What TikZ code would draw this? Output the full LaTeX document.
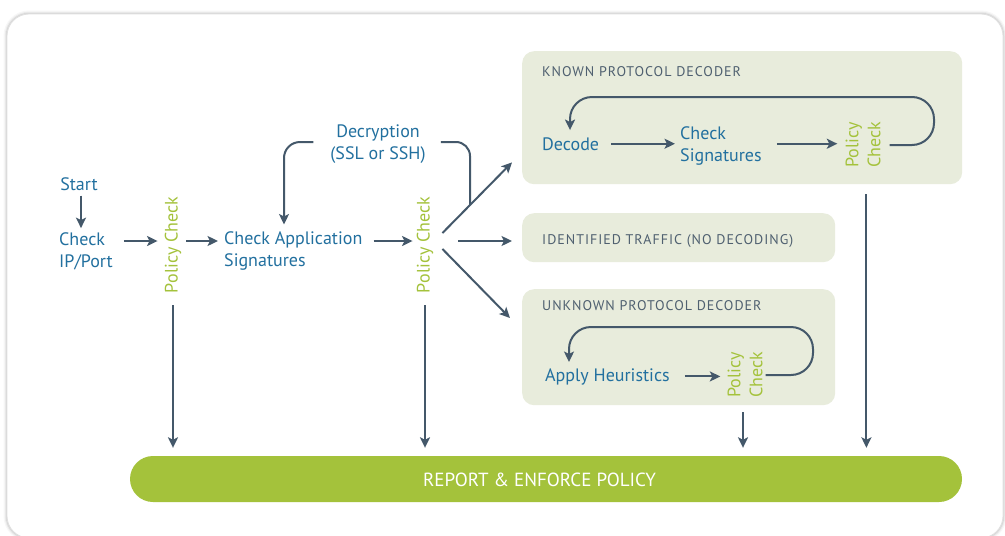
\documentclass[tikz,border=0pt]{standalone}
\usepackage{fontspec}
\setmainfont{PT Sans}
\newfontfamily\capsfont[LetterSpace=7]{PT Sans}
\usetikzlibrary{arrows.meta,calc}
\definecolor{ink}{HTML}{44586A}
\definecolor{txtblue}{HTML}{22709F}
\definecolor{lime}{HTML}{A4C23B}
\definecolor{boxfill}{HTML}{E8ECDC}
\definecolor{capink}{HTML}{4F6070}
\begin{document}
\begin{tikzpicture}[x=1pt,y=-1pt,
  link/.style={draw=ink, line width=2pt},
  arr/.style={link, -{Stealth[length=10.5pt,width=10pt,inset=2.5pt]}},
  lbl/.style={text=txtblue, font=\fontsize{18}{22}\selectfont, inner sep=2pt},
  pol/.style={text=lime, font=\fontsize{18}{22}\selectfont, rotate=90, inner sep=2pt},
  zone/.style={fill=boxfill, rounded corners=12pt, anchor=north west, inner sep=0pt},
  zonetitle/.style={text=capink, font=\capsfont\fontsize{14}{16}\selectfont, anchor=base west, inner sep=0pt}
]
\useasboundingbox (0,0) rectangle (1005,536);

% white panel with a soft edge
\foreach \w/\o in {7/0.03,4.5/0.05,2.5/0.07}
  \draw[black, opacity=\o, line width=\w pt, rounded corners=22pt] (7,14) rectangle (1003,538);
\draw[black!12, fill=white, line width=0.8pt, rounded corners=22pt] (7,14) rectangle (1003,538);

% decoder zones
\node[zone, minimum width=440, minimum height=133] (known) at (522,51) {};
\node[zone, minimum width=313, minimum height=49] (ident) at (522,213) {};
\node[zone, minimum width=313, minimum height=116] (unknown) at (522,289) {};
\node[zonetitle] (knownlbl) at (542,76) {KNOWN PROTOCOL DECODER};
\node[zonetitle] (identlbl) at (542,244) {IDENTIFIED TRAFFIC (NO DECODING)};
\node[zonetitle] (unknownlbl) at (542,310) {UNKNOWN PROTOCOL DECODER};

% report bar
\node[fill=lime, rounded corners=23pt, minimum width=832, minimum height=46, inner sep=0pt] (report) at (546,479) {};
\node[text=white, font=\fontsize{19}{21}\selectfont, inner sep=0pt] (reporttxt) at (539.5,479.5) {REPORT \& ENFORCE POLICY};

% main flow
\coordinate (row) at (0,241);
\node[lbl] (start) at (79,184) {Start};
\node[lbl, anchor=west, align=left] (ipport) at (57,251) {Check\\IP/Port};
\node[pol] (pc1) at (173,245) {Policy Check};
\node[lbl, anchor=west, align=left] (appsig) at (222,251) {Check Application\\Signatures};
\node[pol] (pc2) at (425,245) {Policy Check};
\node[lbl, align=center] (decr) at (378,144) {Decryption\\(SSL or SSH)};

% known protocol decoder
\node[lbl, anchor=base west] (decode) at (540,150) {Decode};
\node[lbl, anchor=west, align=left] (chksig) at (678,146) {Check\\Signatures};
\node[pol, align=left] (pc3) at (863,145) {Policy\\Check};

% unknown protocol decoder
\node[lbl, anchor=base west] (heur) at (543,381) {Apply Heuristics};
\node[pol, align=left] (pc4) at (745,375) {Policy\\Check};

% connectors of the main flow
\draw[arr, shorten <=3pt, shorten >=2pt] ($(start.south)+(2,0)$) -- ($(start.south |- ipport.north)+(2,0)$);
\draw[arr] ($(ipport.east |- row)+(9,0)$) -- ($(pc1.north |- row)+(-5,0)$);
\draw[arr] ($(pc1.south |- row)+(3,0)$) -- ($(appsig.west |- row)+(-4,0)$);
\draw[arr] ($(appsig.east |- row)+(9,0)$) -- ($(pc2.north |- row)+(-2,0)$);

% decryption branch
\coordinate (dl) at (284,142);
\coordinate (dr) at (470,142);
\coordinate (merge) at (470,205);
\draw[arr, rounded corners=16pt, shorten >=5pt] ($(decr.west)+(-15,-2)$) -- (dl) -- (dl |- appsig.north);
\draw[link, rounded corners=14pt] ($(decr.east)+(13,-2)$) -- (dr) -- (merge);

% fan-out to the decoders
\draw[arr] ($(pc2.south)+(7,-12)$) -- ($(known.south west)+(-10,-22)$);
\draw[arr] ($(pc2.south |- row)+(23,0)$) -- ($(ident.west |- row)+(-10,0)$);
\draw[arr] ($(pc2.south)+(7,4)$) -- ($(unknown.north west)+(-12,29)$);

% known decoder loop
\coordinate (kloop) at (934,97);
\draw[arr] ($(decode.east)+(10,0)$) -- ($(chksig.west |- decode.east)+(-3,0)$);
\draw[arr] ($(chksig.east |- decode.east)+(13,0)$) -- ($(pc3.north |- decode.east)+(-6,0)$);
\draw[arr, rounded corners=22pt, shorten >=5pt] ($(pc3.south)+(7,0)$) -| (kloop) -| ($(decode.north west)+(30,0)$);

% unknown decoder loop
\coordinate (uloop) at (813,327);
\draw[arr] ($(heur.east)+(13,0)$) -- ($(pc4.north |- heur.east)+(-5,0)$);
\draw[arr, rounded corners=22pt, shorten >=4pt] ($(pc4.south)+(1,0)$) -| (uloop) -| ($(heur.north west)+(26,0)$);

% drops to the report bar
\draw[arr, shorten >=8pt] ($(pc1.west)+(0,10)$) -- (pc1.west |- report.north);
\draw[arr, shorten >=8pt] ($(pc2.west)+(0,10)$) -- (pc2.west |- report.north);
\draw[arr, shorten >=8pt] ($(pc4.west)+(-2,12)$) -- ($(pc4.west |- report.north)+(-2,0)$);
\draw[arr, shorten >=8pt] ($(known.south east)+(-96,10)$) -- ($(known.south east |- report.north)+(-96,0)$);
\end{tikzpicture}
\end{document}
